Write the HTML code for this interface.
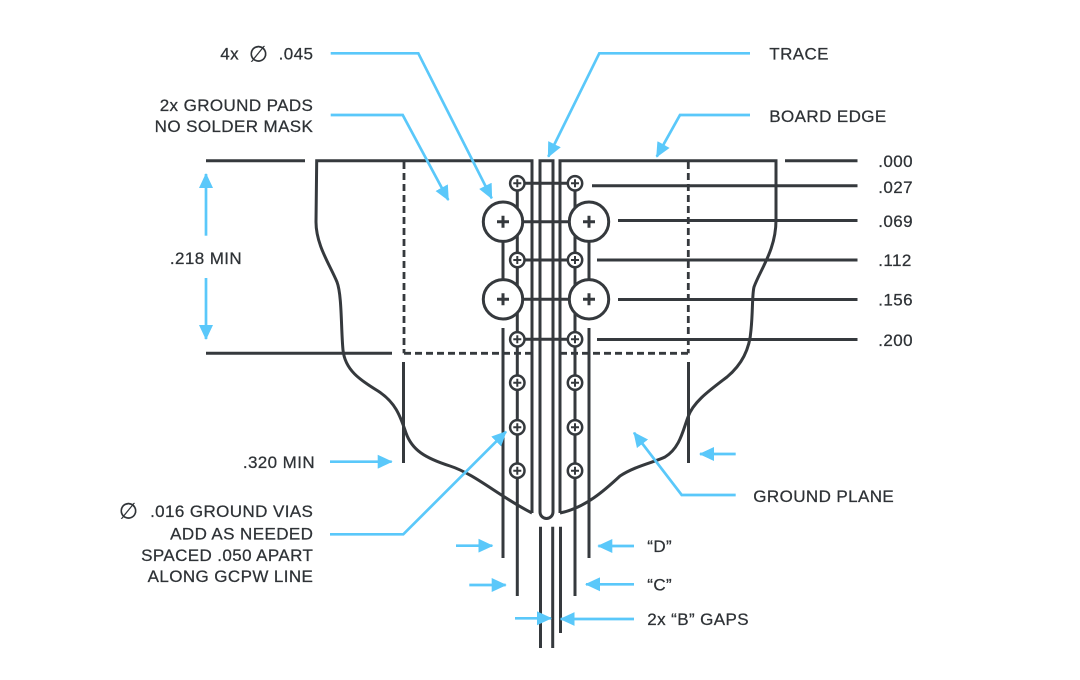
<!DOCTYPE html>
<html><head><meta charset="utf-8"><style>
html,body{margin:0;padding:0;background:#fff;}
svg{display:block;}
text{font-family:"Liberation Sans","DejaVu Sans",sans-serif;font-size:17px;fill:#2e3236;stroke:#2e3236;stroke-width:0.25px;letter-spacing:0.4px;}
text.sym{font-family:"DejaVu Sans",sans-serif;font-size:22px;letter-spacing:0;}
</style></head><body>
<svg width="1080" height="680" viewBox="0 0 1080 680" xmlns="http://www.w3.org/2000/svg">
<defs>
<marker id="ah" markerUnits="userSpaceOnUse" viewBox="0 0 15 14" refX="14" refY="7" markerWidth="15" markerHeight="14" orient="auto">
<path d="M0,0 L15,7 L0,14 z" fill="#5ac8fa"/>
</marker>
</defs>
<rect width="1080" height="680" fill="#fff"/>

<g fill="none" stroke="#35393d" stroke-width="3">
<g stroke-dasharray="7 4" stroke-width="2.8">
<line x1="404" y1="162" x2="404" y2="353.3"/>
<line x1="688.3" y1="162" x2="688.3" y2="353.3"/>
<line x1="404" y1="353.3" x2="532" y2="353.3"/>
<line x1="560" y1="353.3" x2="688.3" y2="353.3"/>
</g>
<path d="M532,513 L532,160.7 L316.7,160.7 L316,222 C316,245 330,265 337,282 C342,295 341,330 343,350 C345,370 360,380 378,391 C395,402 400,415 406,433 C412,450 425,458 450,466 C475,474 500,497 532,513"/>
<path d="M560,513 L560,160.7 L776,160.7 L776,220 C776,250 760,270 754,287 C752,295 753,310 751,330 C750,345 745,362 727,377 C710,390 693,402 688,417 C683,430 680,448 665,457 C655,462 635,466 620,476 C605,490 585,508 560,513"/>
<path d="M540,512 L540,160.7 L553,160.7 L553,512 A6.5,6.5 0 0 1 540,512"/>
<line x1="540.5" y1="526.7" x2="540.5" y2="648"/>
<line x1="552.7" y1="526.7" x2="552.7" y2="648"/>
<line x1="560.5" y1="526.7" x2="560.5" y2="633"/>
<line x1="503" y1="221.7" x2="503" y2="299.3"/>
<line x1="503" y1="328" x2="503" y2="558"/>
<line x1="589" y1="221.7" x2="589" y2="299.3"/>
<line x1="589" y1="328" x2="589" y2="558"/>
<line x1="517.3" y1="183.3" x2="517.3" y2="596"/>
<line x1="575" y1="183.3" x2="575" y2="596"/>
<line x1="517.3" y1="183.3" x2="575" y2="183.3"/>
<line x1="503" y1="221.7" x2="589" y2="221.7"/>
<line x1="517.3" y1="260" x2="575" y2="260"/>
<line x1="503" y1="299.3" x2="589" y2="299.3"/>
<line x1="517.3" y1="339.3" x2="575" y2="339.3"/>
<line x1="206" y1="160.7" x2="305" y2="160.7"/>
<line x1="206" y1="353.3" x2="392" y2="353.3"/>
<line x1="403.5" y1="362" x2="403.5" y2="463"/>
<line x1="688.5" y1="362" x2="688.5" y2="463"/>
<line x1="785" y1="160.7" x2="857.5" y2="160.7"/>
<line x1="592" y1="185.7" x2="857.5" y2="185.7"/>
<line x1="618" y1="220.5" x2="857.5" y2="220.5"/>
<line x1="597" y1="260" x2="857.5" y2="260"/>
<line x1="618" y1="299.5" x2="857.5" y2="299.5"/>
<line x1="597" y1="339.5" x2="857.5" y2="339.5"/>
</g>

<g fill="#fff" stroke="#35393d" stroke-width="3">
<circle cx="503" cy="221.7" r="19.7"/>
<circle cx="589" cy="221.7" r="19.7"/>
<circle cx="503" cy="299.3" r="19.7"/>
<circle cx="589" cy="299.3" r="19.7"/>
</g>
<g stroke="#35393d" stroke-width="3">
<path d="M497,221.7h12M503,215.7v12M583,221.7h12M589,215.7v12M497,299.3h12M503,293.3v12M583,299.3h12M589,293.3v12"/>
</g>
<g fill="#fff" stroke="#35393d" stroke-width="2.5">
<circle cx="517.3" cy="183.3" r="7.2"/><circle cx="575" cy="183.3" r="7.2"/>
<circle cx="517.3" cy="260" r="7.2"/><circle cx="575" cy="260" r="7.2"/>
<circle cx="517.3" cy="339.3" r="7.2"/><circle cx="575" cy="339.3" r="7.2"/>
<circle cx="517.3" cy="382.7" r="7.2"/><circle cx="575" cy="382.7" r="7.2"/>
<circle cx="517.3" cy="427.3" r="7.2"/><circle cx="575" cy="427.3" r="7.2"/>
<circle cx="517.3" cy="470.7" r="7.2"/><circle cx="575" cy="470.7" r="7.2"/>
</g>
<g stroke="#35393d" stroke-width="2">
<path d="M513.3,183.3h8M517.3,179.3v8M571,183.3h8M575,179.3v8
M513.3,260h8M517.3,256v8M571,260h8M575,256v8
M513.3,339.3h8M517.3,335.3v8M571,339.3h8M575,335.3v8
M513.3,382.7h8M517.3,378.7v8M571,382.7h8M575,378.7v8
M513.3,427.3h8M517.3,423.3v8M571,427.3h8M575,423.3v8
M513.3,470.7h8M517.3,466.7v8M571,470.7h8M575,466.7v8"/>
</g>

<g fill="none" stroke="#5ac8fa" stroke-width="2.7" marker-end="url(#ah)">
<polyline points="330.7,53.3 418.3,53.3 491.7,198.3"/>
<polyline points="330.7,115 402.7,115 448.3,200"/>
<polyline points="750,53.3 599.3,53.3 548.3,156.7"/>
<polyline points="750,115 680,115 656.7,156.7"/>
<line x1="206" y1="235.7" x2="206" y2="174"/>
<line x1="206" y1="278" x2="206" y2="339"/>
<line x1="330" y1="461.7" x2="391.7" y2="461.7"/>
<line x1="735.7" y1="454" x2="700" y2="454"/>
<polyline points="735.7,495 681.7,495 634,432.7"/>
<polyline points="330,534.3 403.3,534.3 506,431.7"/>
<line x1="456" y1="545.7" x2="492.3" y2="545.7"/>
<line x1="634" y1="546" x2="598.3" y2="546"/>
<line x1="469.3" y1="585" x2="505.7" y2="585"/>
<line x1="634" y1="584.3" x2="586" y2="584.3"/>
<line x1="515" y1="618.3" x2="551" y2="618.3"/>
<line x1="634" y1="619" x2="560.7" y2="619"/>
</g>

<text x="239" y="59.5" text-anchor="end">4x</text>
<text class="sym" x="258.5" y="61.3" text-anchor="middle">∅</text>
<text x="313.3" y="59.5" text-anchor="end">.045</text>
<text x="313.3" y="111.2" text-anchor="end">2x GROUND PADS</text>
<text x="313.3" y="131.9" text-anchor="end">NO SOLDER MASK</text>
<text x="206" y="264.2" text-anchor="middle">.218 MIN</text>
<text x="315" y="468" text-anchor="end">.320 MIN</text>
<text class="sym" x="128.5" y="518.7" text-anchor="middle">∅</text>
<text x="313.3" y="517" text-anchor="end">.016 GROUND VIAS</text>
<text x="313.3" y="539.5" text-anchor="end">ADD AS NEEDED</text>
<text x="313.3" y="561.2" text-anchor="end">SPACED .050 APART</text>
<text x="313.3" y="582" text-anchor="end">ALONG GCPW LINE</text>

<text x="769.3" y="59.5">TRACE</text>
<text x="769.3" y="122">BOARD EDGE</text>
<text x="878.3" y="167">.000</text>
<text x="878.3" y="193">.027</text>
<text x="878.3" y="227">.069</text>
<text x="878.3" y="266.2">.112</text>
<text x="878.3" y="305.5">.156</text>
<text x="878.3" y="346.2">.200</text>
<text x="753.3" y="502">GROUND PLANE</text>
<text x="647.3" y="552.2">“D”</text>
<text x="647.3" y="590.5">“C”</text>
<text x="647.3" y="625.2">2x “B” GAPS</text>
</svg>
</body></html>
